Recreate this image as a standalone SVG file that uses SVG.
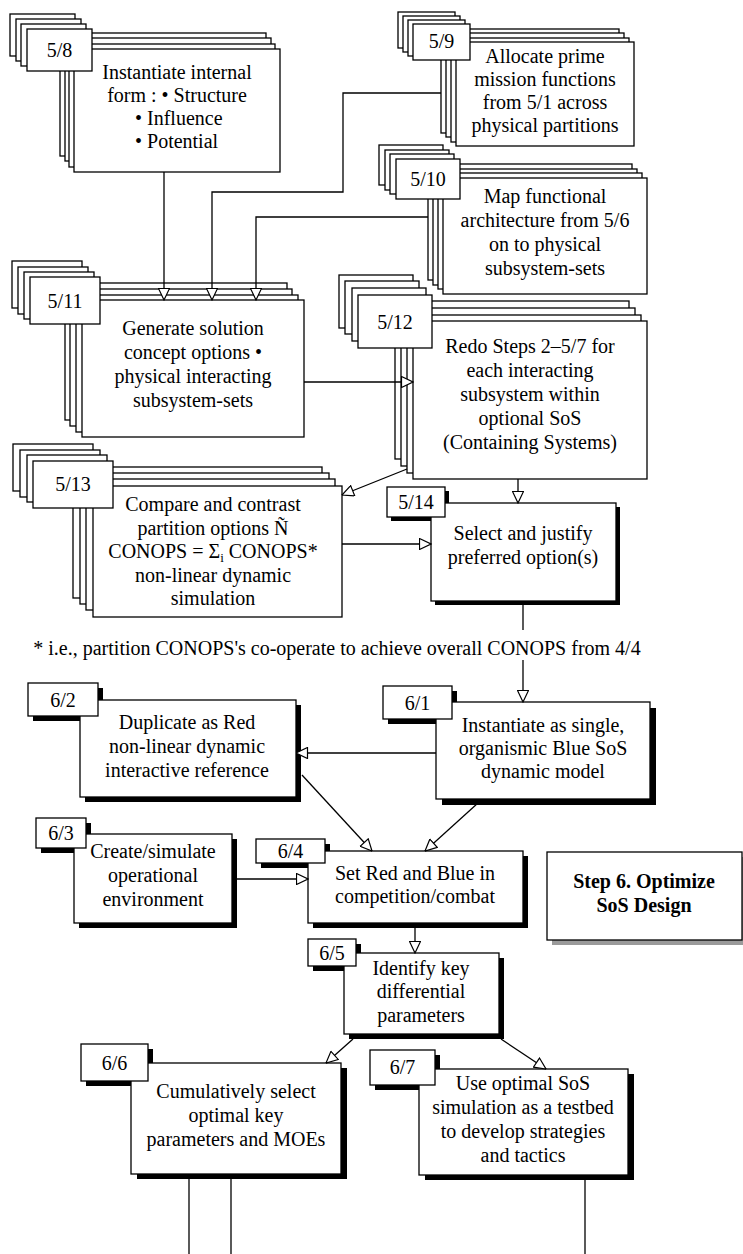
<svg xmlns="http://www.w3.org/2000/svg" width="743" height="1254" viewBox="0 0 743 1254">
  <style>
    .pg{fill:#fff;stroke:#000;stroke-width:1.3}
    .sh{fill:#000}
    .gs{fill:#9a9a9a}
    .t{font-family:"Liberation Serif","Times New Roman",serif;font-size:20px;text-anchor:middle;fill:#000}
    .l{text-anchor:start}
    .b{font-weight:bold}
    .ln{fill:none;stroke:#000;stroke-width:1.3}
    .ar{marker-end:url(#tri)}
  </style>
  <defs>
    <marker id="tri" markerUnits="userSpaceOnUse" markerWidth="13" markerHeight="12" refX="11.5" refY="5.5" orient="auto" viewBox="-1 -0.5 13 12">
      <path d="M0,0 L11.5,5.5 L0,11 Z" fill="#fff" stroke="#000" stroke-width="1.2"/>
    </marker>
  </defs>

  <rect width="743" height="1254" fill="#fff"/>

  <!-- Step 5: stacked multi-option activities -->
  <g id="n5-8">
    <rect class="pg" x="60" y="33" width="206" height="123"/>
    <rect class="pg" x="65" y="38" width="206" height="123"/>
    <rect class="pg" x="69" y="44" width="206" height="123"/>
    <rect class="pg" x="74" y="49" width="206" height="123"/>
    <rect class="pg" x="10" y="14" width="65" height="42"/>
    <rect class="pg" x="16" y="19" width="65" height="42"/>
    <rect class="pg" x="21" y="24" width="65" height="42"/>
    <rect class="pg" x="27" y="29" width="65" height="42"/>
    <text class="t" x="59.5" y="57">5/8</text>
    <text class="t" x="177" y="79">Instantiate internal</text>
    <text class="t" x="177" y="102">form : • Structure</text>
    <text class="t l" x="135" y="125">• Influence</text>
    <text class="t l" x="135" y="148">• Potential</text>
  </g>

  <g id="n5-9">
    <rect class="pg" x="441" y="29" width="178" height="104"/>
    <rect class="pg" x="446" y="33" width="178" height="104"/>
    <rect class="pg" x="451" y="38" width="178" height="104"/>
    <rect class="pg" x="456" y="42" width="178" height="104"/>
    <rect class="pg" x="398" y="12" width="57" height="36"/>
    <rect class="pg" x="403" y="16" width="57" height="36"/>
    <rect class="pg" x="408" y="20" width="57" height="36"/>
    <rect class="pg" x="413" y="24" width="57" height="36"/>
    <text class="t" x="441.5" y="48">5/9</text>
    <text class="t" x="545" y="63">Allocate prime</text>
    <text class="t" x="545" y="86">mission functions</text>
    <text class="t" x="545" y="109">from 5/1 across</text>
    <text class="t" x="545" y="132">physical partitions</text>
  </g>

  <g id="n5-10">
    <rect class="pg" x="428" y="164" width="204" height="116"/>
    <rect class="pg" x="433" y="169" width="204" height="116"/>
    <rect class="pg" x="438" y="173" width="204" height="116"/>
    <rect class="pg" x="443" y="178" width="204" height="116"/>
    <rect class="pg" x="379" y="145" width="64" height="40"/>
    <rect class="pg" x="385" y="150" width="64" height="40"/>
    <rect class="pg" x="390" y="154" width="64" height="40"/>
    <rect class="pg" x="396" y="159" width="64" height="40"/>
    <text class="t" x="428" y="186">5/10</text>
    <text class="t" x="545" y="203">Map functional</text>
    <text class="t" x="545" y="227">architecture from 5/6</text>
    <text class="t" x="545" y="251">on to physical</text>
    <text class="t" x="545" y="275">subsystem-sets</text>
  </g>

  <g id="n5-11">
    <rect class="pg" x="65" y="283" width="222" height="137"/>
    <rect class="pg" x="70" y="289" width="222" height="137"/>
    <rect class="pg" x="76" y="295" width="222" height="137"/>
    <rect class="pg" x="82" y="300" width="222" height="137"/>
    <rect class="pg" x="12" y="261" width="70" height="47"/>
    <rect class="pg" x="18" y="267" width="70" height="47"/>
    <rect class="pg" x="24" y="272" width="70" height="47"/>
    <rect class="pg" x="30" y="277" width="70" height="47"/>
    <text class="t" x="65" y="308">5/11</text>
    <text class="t" x="193" y="335">Generate solution</text>
    <text class="t" x="193" y="359">concept options •</text>
    <text class="t" x="193" y="383">physical interacting</text>
    <text class="t" x="193" y="407">subsystem-sets</text>
  </g>

  <g id="n5-12">
    <rect class="pg" x="395" y="301" width="234" height="158"/>
    <rect class="pg" x="401" y="308" width="234" height="158"/>
    <rect class="pg" x="407" y="315" width="234" height="158"/>
    <rect class="pg" x="413" y="321" width="234" height="158"/>
    <rect class="pg" x="339" y="275" width="74" height="53"/>
    <rect class="pg" x="345" y="281" width="74" height="53"/>
    <rect class="pg" x="352" y="288" width="74" height="53"/>
    <rect class="pg" x="358" y="295" width="74" height="53"/>
    <text class="t" x="395" y="329">5/12</text>
    <text class="t" x="530" y="353">Redo Steps 2–5/7 for</text>
    <text class="t" x="530" y="377">each interacting</text>
    <text class="t" x="530" y="401">subsystem within</text>
    <text class="t" x="530" y="425">optional SoS</text>
    <text class="t" x="530" y="449">(Containing Systems)</text>
  </g>

  <g id="n5-13">
    <rect class="pg" x="73" y="467" width="249" height="131"/>
    <rect class="pg" x="80" y="473" width="249" height="131"/>
    <rect class="pg" x="86" y="479" width="249" height="131"/>
    <rect class="pg" x="93" y="486" width="249" height="131"/>
    <rect class="pg" x="13" y="444" width="80" height="47"/>
    <rect class="pg" x="20" y="450" width="80" height="47"/>
    <rect class="pg" x="27" y="455" width="80" height="47"/>
    <rect class="pg" x="33" y="461" width="80" height="47"/>
    <text class="t" x="73" y="491">5/13</text>
    <text class="t" x="213" y="511">Compare and contrast</text>
    <text class="t" x="213" y="535">partition options Ñ</text>
    <text class="t" x="213" y="558">CONOPS = Σ<tspan font-size="13" dy="4">i</tspan><tspan dy="-4"> CONOPS*</tspan></text>
    <text class="t" x="213" y="582">non-linear dynamic</text>
    <text class="t" x="213" y="605">simulation</text>
  </g>

  <g id="n5-14">
    <rect class="sh" x="391" y="491" width="58" height="30"/>
    <rect class="sh" x="435" y="507" width="185" height="98"/>
    <rect class="pg" x="431" y="503" width="185" height="98"/>
    <rect class="pg" x="387" y="487" width="58" height="30"/>
    <text class="t" x="416" y="509">5/14</text>
    <text class="t" x="523" y="540">Select and justify</text>
    <text class="t" x="523" y="564">preferred option(s)</text>
  </g>

  <text id="footnote" class="t" x="337" y="655">* i.e., partition CONOPS's co-operate to achieve overall CONOPS from 4/4</text>

  <!-- Step 6: single-line activities with drop shadows -->
  <g id="n6-1">
    <rect class="sh" x="388" y="691" width="69" height="33"/>
    <rect class="sh" x="442" y="708" width="214" height="97"/>
    <rect class="pg" x="436" y="702" width="214" height="97"/>
    <rect class="pg" x="383" y="686" width="69" height="33"/>
    <text class="t" x="417.5" y="710">6/1</text>
    <text class="t" x="543" y="732">Instantiate as single,</text>
    <text class="t" x="543" y="755">organismic Blue SoS</text>
    <text class="t" x="543" y="778">dynamic model</text>
  </g>

  <g id="n6-2">
    <rect class="sh" x="33" y="688" width="70" height="33"/>
    <rect class="sh" x="85" y="705" width="216" height="97"/>
    <rect class="pg" x="80" y="700" width="216" height="97"/>
    <rect class="pg" x="28" y="683" width="70" height="33"/>
    <text class="t" x="63" y="707">6/2</text>
    <text class="t" x="187" y="729">Duplicate as Red</text>
    <text class="t" x="187" y="753">non-linear dynamic</text>
    <text class="t" x="187" y="777">interactive reference</text>
  </g>

  <g id="n6-3">
    <rect class="sh" x="41" y="823" width="50" height="30"/>
    <rect class="sh" x="79" y="839" width="158" height="89"/>
    <rect class="pg" x="74" y="834" width="158" height="89"/>
    <rect class="pg" x="36" y="818" width="50" height="30"/>
    <text class="t" x="61" y="840">6/3</text>
    <text class="t" x="153" y="858">Create/simulate</text>
    <text class="t" x="153" y="882">operational</text>
    <text class="t" x="153" y="906">environment</text>
  </g>

  <g id="n6-4">
    <rect class="sh" x="261" y="844" width="69" height="24"/>
    <rect class="sh" x="313" y="856" width="215" height="72"/>
    <rect class="pg" x="308" y="851" width="215" height="72"/>
    <rect class="pg" x="256" y="839" width="69" height="24"/>
    <text class="t" x="290.5" y="858">6/4</text>
    <text class="t" x="415" y="880">Set Red and Blue in</text>
    <text class="t" x="415" y="903">competition/combat</text>
  </g>

  <g id="n6-5">
    <rect class="sh" x="313" y="944" width="48" height="27"/>
    <rect class="sh" x="349" y="958" width="155" height="81"/>
    <rect class="pg" x="344" y="953" width="155" height="81"/>
    <rect class="pg" x="308" y="939" width="48" height="27"/>
    <text class="t" x="332" y="960">6/5</text>
    <text class="t" x="421" y="975">Identify key</text>
    <text class="t" x="421" y="998">differential</text>
    <text class="t" x="421" y="1022">parameters</text>
  </g>

  <g id="n6-6">
    <rect class="sh" x="86" y="1049" width="67" height="37"/>
    <rect class="sh" x="137" y="1068" width="210" height="111"/>
    <rect class="pg" x="131" y="1063" width="210" height="111"/>
    <rect class="pg" x="81" y="1044" width="67" height="37"/>
    <text class="t" x="114.5" y="1070">6/6</text>
    <text class="t" x="236" y="1098">Cumulatively select</text>
    <text class="t" x="236" y="1122">optimal key</text>
    <text class="t" x="236" y="1146">parameters and MOEs</text>
  </g>

  <g id="n6-7">
    <rect class="sh" x="375" y="1055" width="65" height="35"/>
    <rect class="sh" x="425" y="1074" width="209" height="106"/>
    <rect class="pg" x="419" y="1069" width="209" height="106"/>
    <rect class="pg" x="370" y="1050" width="65" height="35"/>
    <text class="t" x="402.5" y="1074">6/7</text>
    <text class="t" x="523" y="1090">Use optimal SoS</text>
    <text class="t" x="523" y="1114">simulation as a testbed</text>
    <text class="t" x="523" y="1138">to develop strategies</text>
    <text class="t" x="523" y="1162">and tactics</text>
  </g>

  <g id="step6-title">
    <rect class="gs" x="552" y="857" width="195" height="88"/>
    <rect class="pg" x="547" y="852" width="195" height="88"/>
    <text class="t b" x="644" y="888">Step 6. Optimize</text>
    <text class="t b" x="644" y="912">SoS Design</text>
  </g>

  <!-- connectors -->
  <g id="connectors">
    <path class="ln ar" d="M164,172 V300"/>
    <path class="ln ar" d="M441,93 H343 V192 H212 V300"/>
    <path class="ln ar" d="M428,217 H256 V300"/>
    <path class="ln ar" d="M304,382 H413"/>
    <path class="ln ar" d="M407,469 L342,495"/>
    <path class="ln ar" d="M518,479 V503"/>
    <path class="ln ar" d="M342,544 H431"/>
    <path class="ln" d="M523,601 V630"/>
    <path class="ln ar" d="M523,660 V702"/>
    <path class="ln ar" d="M436,753 H296"/>
    <path class="ln ar" d="M302,775 L372,851"/>
    <path class="ln ar" d="M478,803 L425,851"/>
    <path class="ln ar" d="M232,879 H308"/>
    <path class="ln ar" d="M415,923 V953"/>
    <path class="ln ar" d="M353,1039 L326,1063"/>
    <path class="ln ar" d="M501,1039 L546,1069"/>
    <path class="ln" d="M189,1174 V1254"/>
    <path class="ln" d="M231,1174 V1254"/>
    <path class="ln" d="M585,1175 V1254"/>
  </g>
</svg>
